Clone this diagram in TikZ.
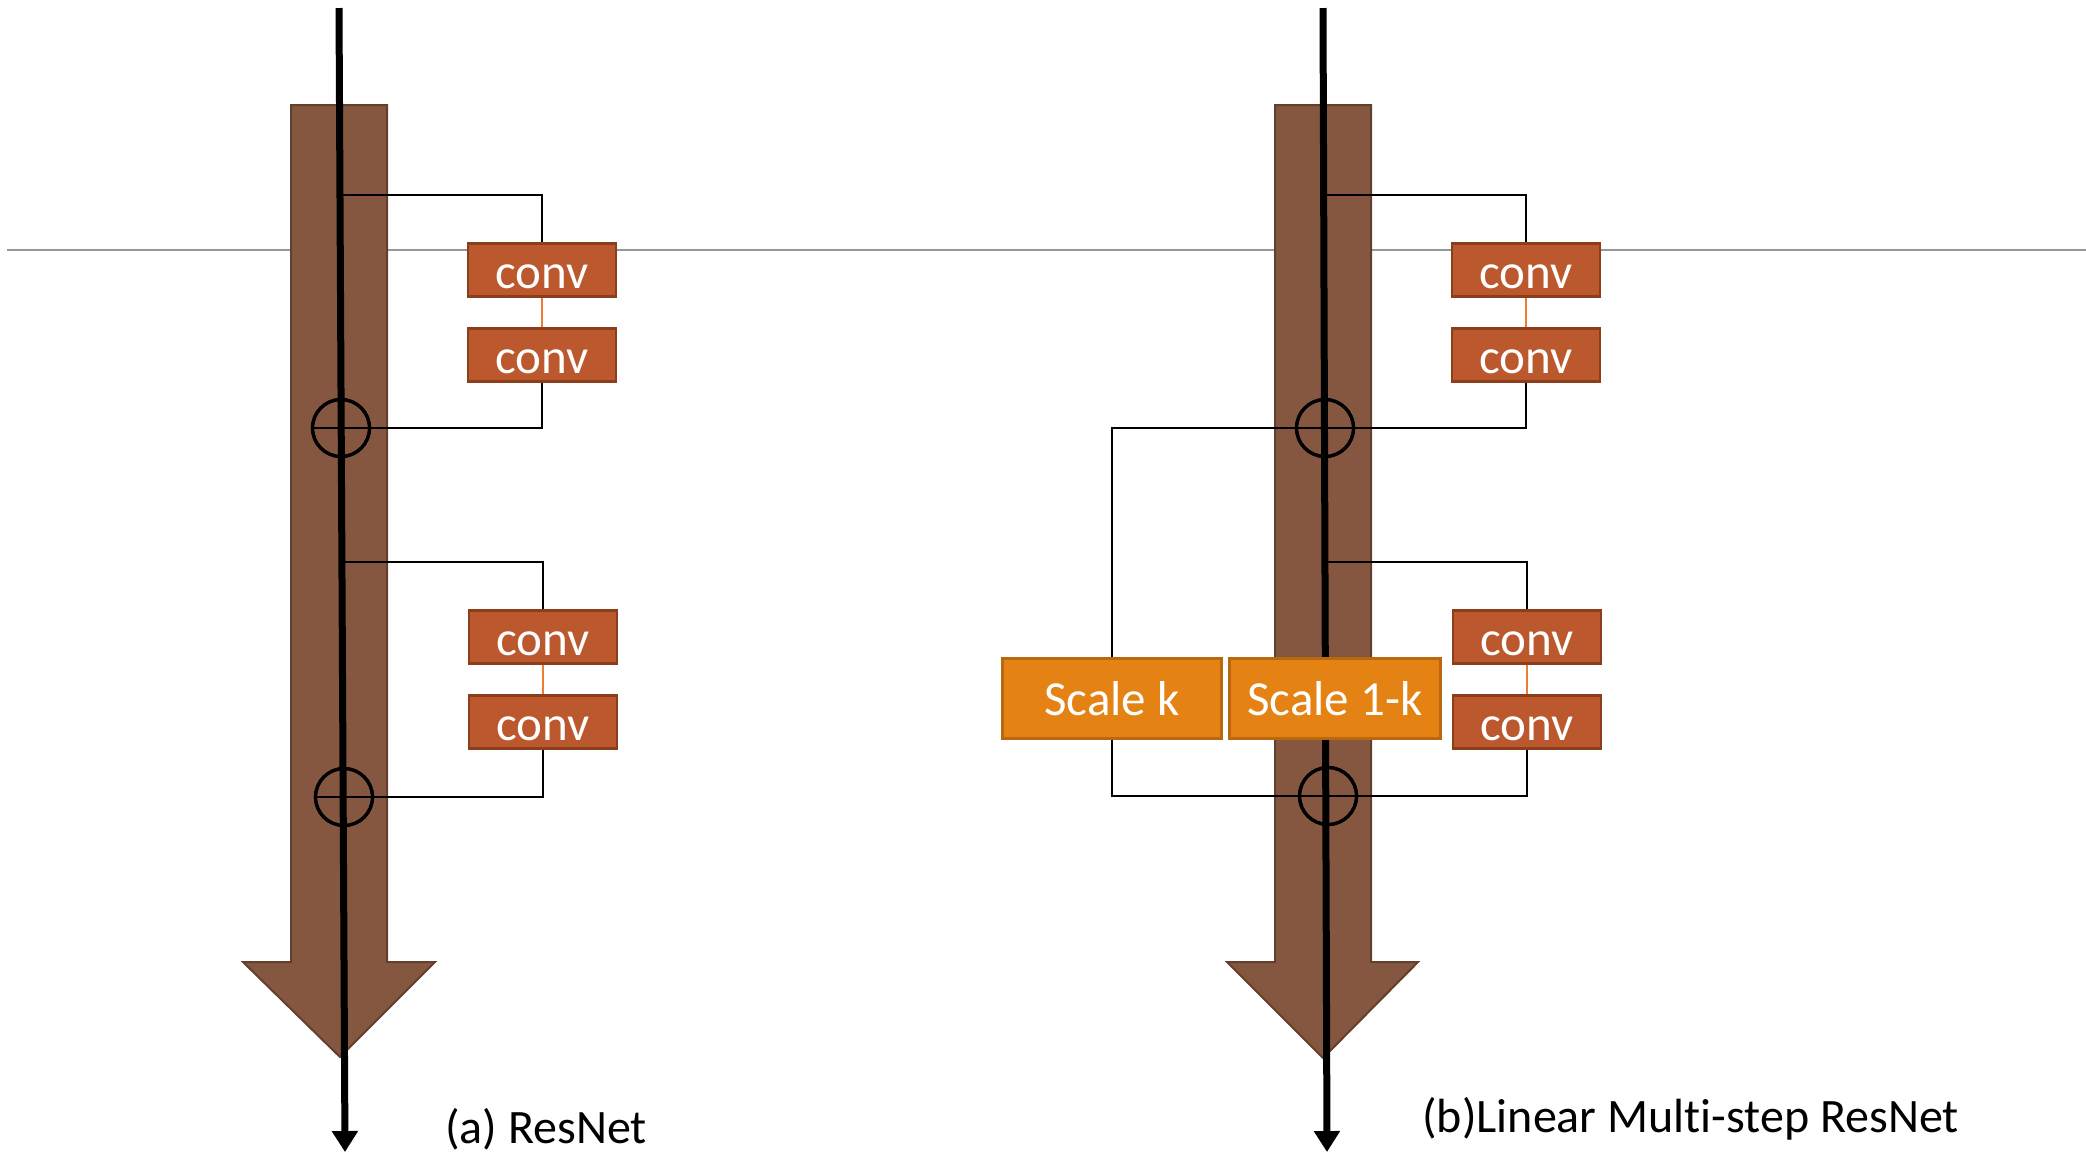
\documentclass[tikz,border=0pt]{standalone}
\usepackage{fontspec}
\setmainfont{Carlito}[Ligatures=NoCommon]
\usetikzlibrary{arrows.meta}

\definecolor{trunk}{RGB}{133,86,64}
\definecolor{trunkedge}{RGB}{99,63,46}
\definecolor{convfill}{RGB}{188,88,45}
\definecolor{convedge}{RGB}{140,62,28}
\definecolor{scalefill}{RGB}{228,131,19}
\definecolor{scaleedge}{RGB}{184,104,14}
\definecolor{link}{RGB}{237,125,49}
\definecolor{guide}{RGB}{150,150,150}

\begin{document}
\begin{tikzpicture}[x=0.5pt,y=-0.5pt,
  trunkarrow/.style={fill=trunk, draw=trunkedge, line width=1pt, line join=miter},
  mainline/.style={line width=3.5pt, -{Triangle[length=10.5pt,width=12.5pt]}},
  wire/.style={line width=1.2pt},
  linkline/.style={draw=link, line width=0.8pt},
  boxtext/.style={text=white, font=\fontsize{24.5}{24.5}\selectfont,
    text depth=0pt, inner sep=0pt},
  convbox/.style={boxtext, text height=18pt, draw=convedge, fill=convfill,
    line width=1.2pt, minimum width=74pt, minimum height=26.5pt},
  scalebox/.style={boxtext, text height=17pt, draw=scaleedge, fill=scalefill,
    line width=1.2pt, minimum height=40pt},
  sumnode/.style={circle, draw, line width=1.6pt, minimum size=28.5pt, inner sep=0pt},
  caption/.style={font=\fontsize{24}{24}\selectfont, anchor=base west, inner sep=0pt}
]
\useasboundingbox (0,0) rectangle (2086,1153);

% thin horizontal guide across the page
\draw[guide, line width=0.75pt] (7,250) -- (2086,250);

% broad data-flow arrows
\draw[trunkarrow] (291,105) -- (387,105) -- (387,962) -- (435,962)
  -- (340,1057) -- (243,962) -- (291,962) -- cycle;
\draw[trunkarrow] (1275,105) -- (1371,105) -- (1371,962) -- (1418,962)
  -- (1323,1058) -- (1227,962) -- (1275,962) -- cycle;

% ---------------- (a) ResNet ----------------
\coordinate (aTop) at (339,8);
\coordinate (aBot) at (345,1152);
\coordinate (aSplit1) at (341,195);
\coordinate (aSplit2) at (342,562);

\node[convbox] (a1) at (542,270) {conv};
\node[convbox] (a2) at (542,355) {conv};
\node[convbox] (a3) at (543,637) {conv};
\node[convbox] (a4) at (543,722) {conv};
\node[sumnode] (aS1) at (341,428) {};
\node[sumnode] (aS2) at (344,797) {};

\draw[linkline] (a1.south) -- (a2.north);
\draw[linkline] (a3.south) -- (a4.north);
\draw[wire] (aSplit1) -| (a1.north);
\draw[wire] (a2.south) |- (aS1.west);
\draw[wire] (aSplit2) -| (a3.north);
\draw[wire] (a4.south) |- (aS2.west);

\draw[mainline] (aTop) -- (aBot);
\node[sumnode] at (aS1) {};
\node[sumnode] at (aS2) {};

\node[caption] (capA) at (445,1143) {(a) ResNet};

% ---------------- (b) Linear multi-step ResNet ----------------
\coordinate (bTop) at (1323,8);
\coordinate (bBot) at (1327,1152);
\coordinate (bSplit1) at (1324,195);
\coordinate (bSplit2) at (1326,562);

\node[convbox] (b1) at (1526,270) {conv};
\node[convbox] (b2) at (1526,355) {conv};
\node[convbox] (b3) at (1527,637) {conv};
\node[convbox] (b4) at (1527,722) {conv};
\node[sumnode] (bS1) at (1325,428) {};
\node[sumnode] (bS2) at (1328,796) {};

\draw[linkline] (b1.south) -- (b2.north);
\draw[linkline] (b3.south) -- (b4.north);
\draw[wire] (bSplit1) -| (b1.north);
\draw[wire] (b2.south) |- (bS1.east);
\draw[wire] (bSplit2) -| (b3.north);
\draw[wire] (b4.south) |- (bS2.east);

\draw[mainline] (bTop) -- (bBot);
\node[sumnode] at (bS1) {};
\node[sumnode] at (bS2) {};

\node[scalebox, minimum width=109.5pt] (sk) at (1112,698.5) {Scale k};
\node[scalebox, minimum width=105.5pt] (sk1) at (1335,698.5) {Scale 1-k};

\draw[wire] (sk.north) |- (bS1.west) -- (bS1.east);
\draw[wire] (sk.south) |- (bS2.west) -- (bS2.east);

\node[caption] (capB) at (1422,1132) {(b)Linear Multi-step ResNet};
\end{tikzpicture}
\end{document}
